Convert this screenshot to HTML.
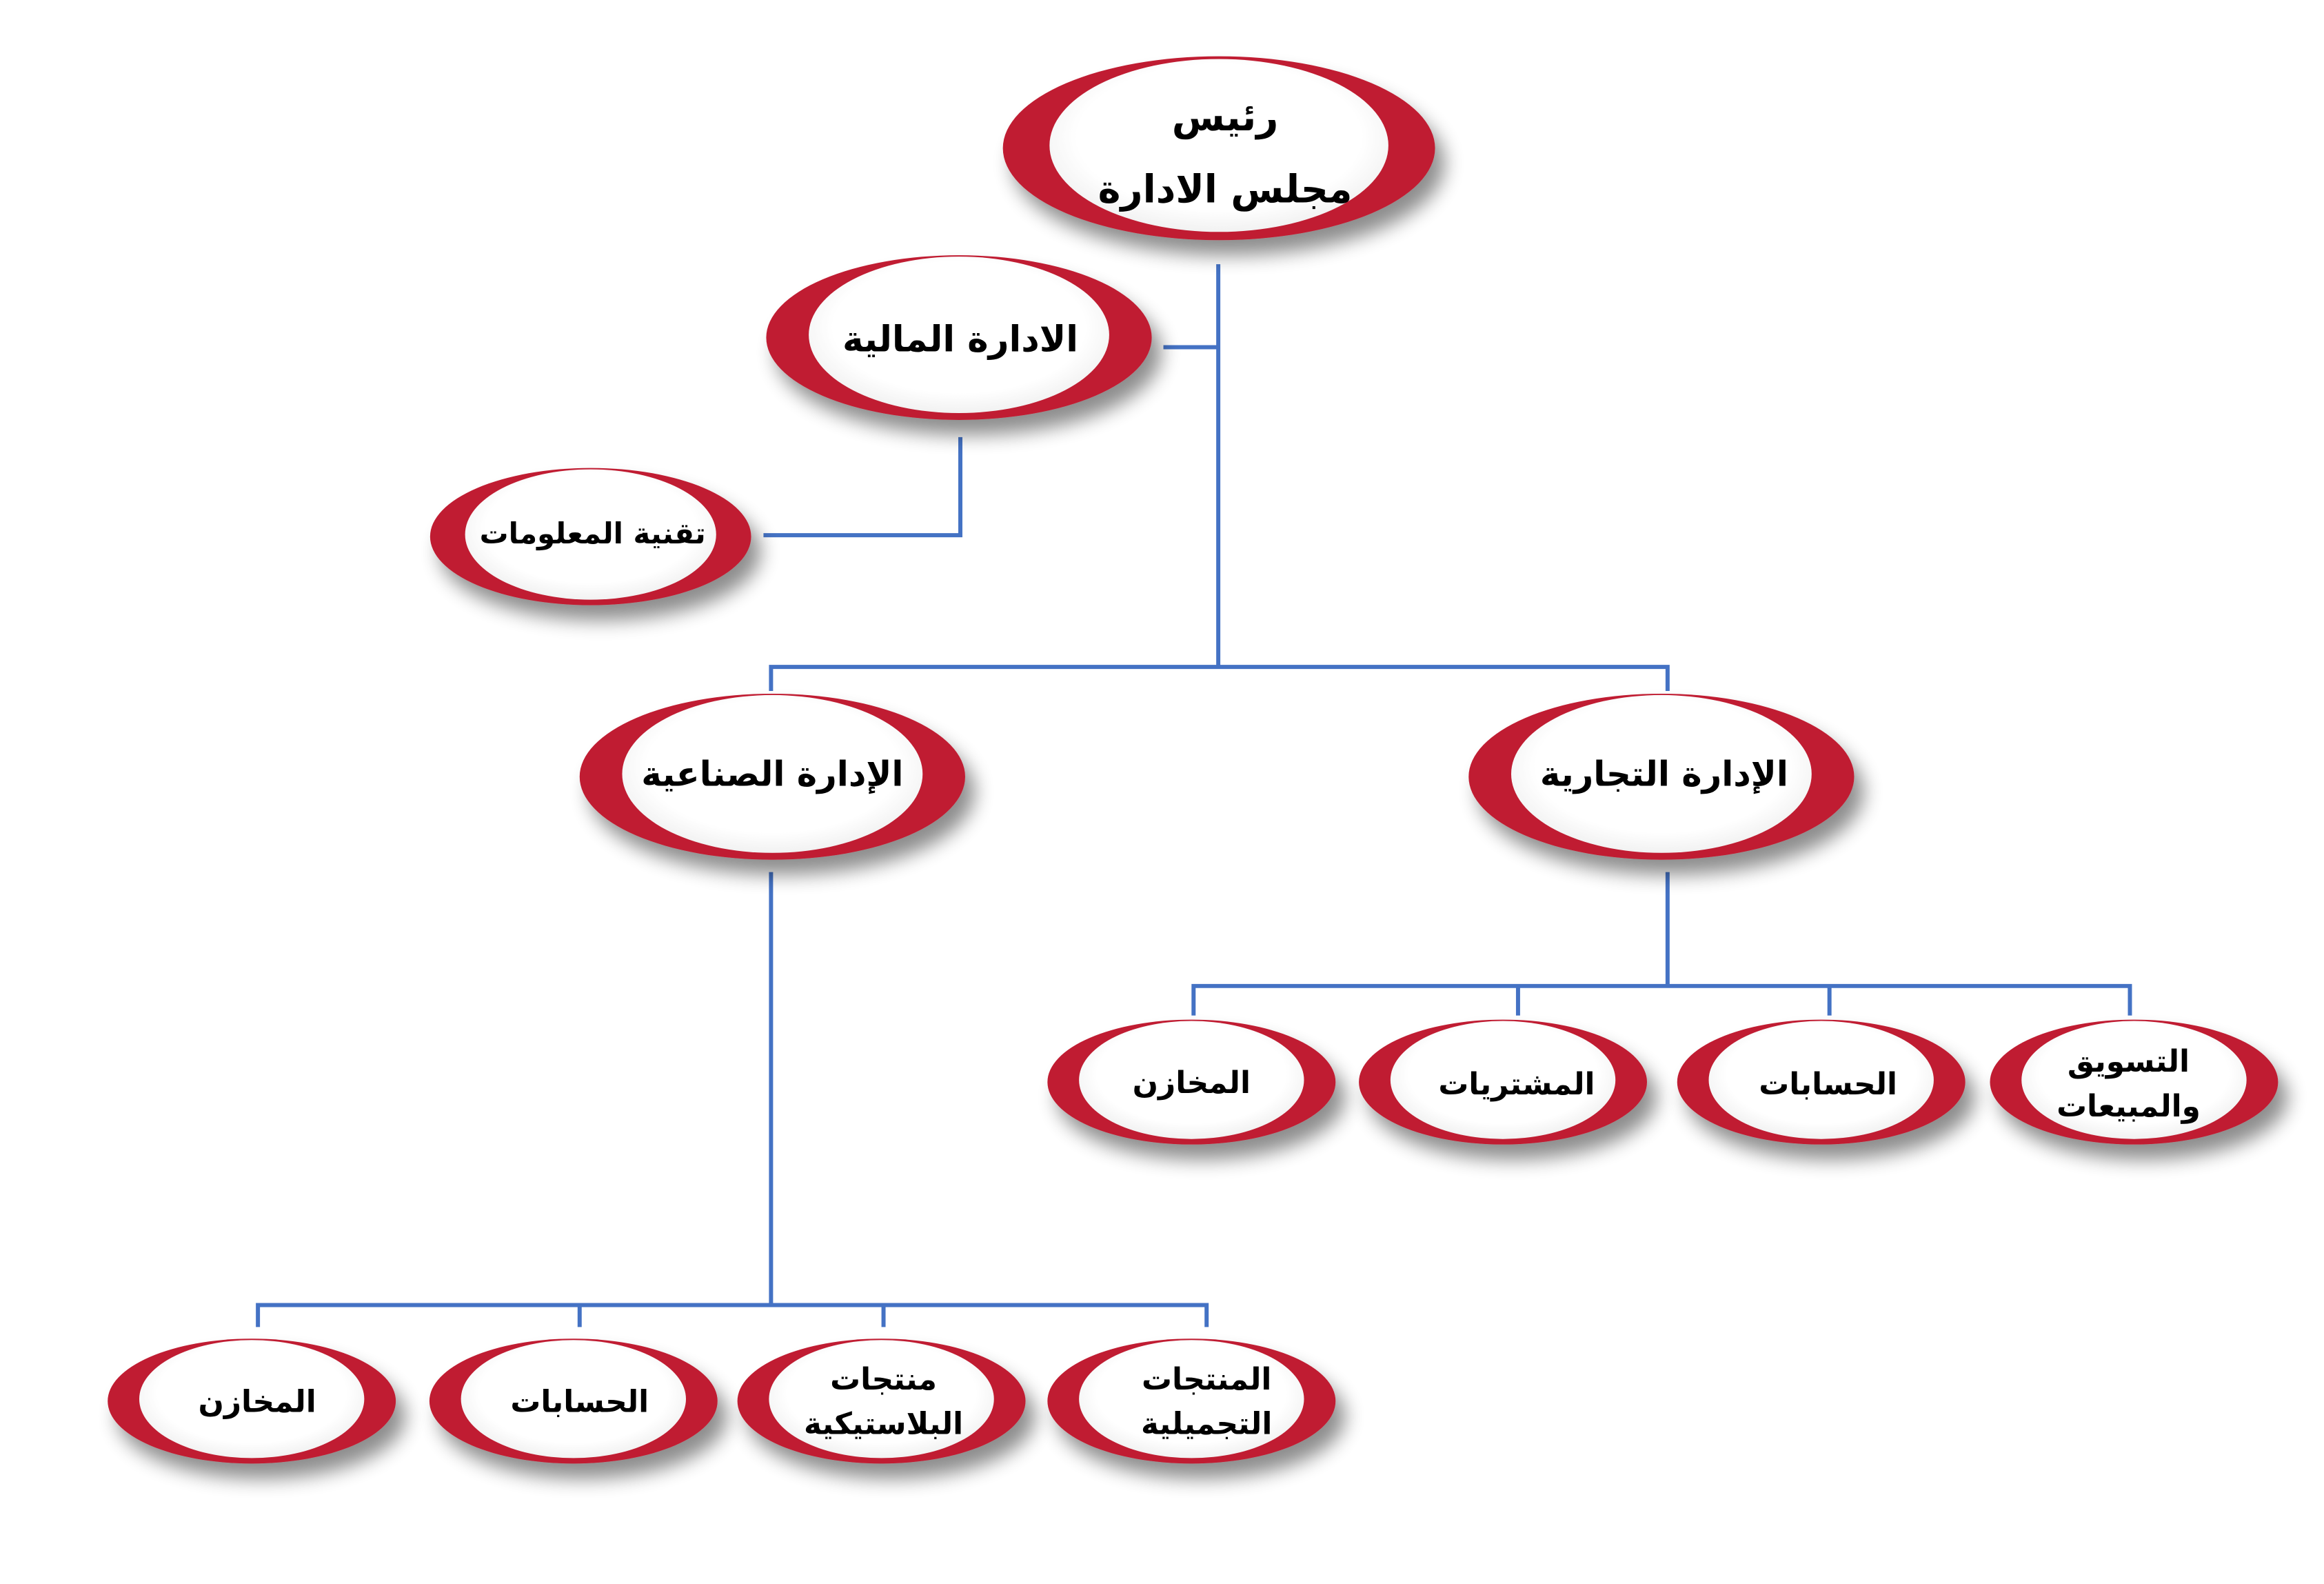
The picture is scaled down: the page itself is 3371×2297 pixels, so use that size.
<!DOCTYPE html>
<html><head><meta charset="utf-8"><style>
html,body{margin:0;padding:0;background:#fff;}
svg{display:block}
text{font-family:"DejaVu Sans","Liberation Sans",sans-serif;font-weight:bold;fill:#000;text-anchor:middle;direction:rtl}
</style></head><body>
<svg width="3371" height="2297" viewBox="0 0 3371 2297" xmlns="http://www.w3.org/2000/svg">
<defs>
<filter id="sh" x="-20%" y="-20%" width="140%" height="160%">
<feGaussianBlur in="SourceAlpha" stdDeviation="14"/>
<feOffset dx="14" dy="22" result="b"/>
<feComponentTransfer><feFuncA type="linear" slope="0.45"/></feComponentTransfer>
<feMerge><feMergeNode/><feMergeNode in="SourceGraphic"/></feMerge>
</filter>
<radialGradient id="wg" cx="50%" cy="45%" r="60%">
<stop offset="0.7" stop-color="#ffffff"/><stop offset="1" stop-color="#ececec"/>
</radialGradient>
</defs>
<g transform="scale(0.995)">
<g stroke="#4472c4" stroke-width="6" fill="none">
<path d="M1776 385V972"/>
<path d="M1696 506H1776"/>
<path d="M1400 637V780H1113"/>
<path d="M1124 972H2431M1124 969V1007M2431 969V1007"/>
<path d="M1124 1271V1902"/>
<path d="M376 1902H1759M376 1899V1934M845 1899V1934M1288 1899V1934M1759 1899V1934"/>
<path d="M2431 1271V1437"/>
<path d="M1740 1437H3105M1740 1434V1480M2213 1434V1480M2667 1434V1480M3105 1434V1480"/>
</g>
<g filter="url(#sh)"><ellipse cx="1777" cy="216" rx="315" ry="134" fill="#c01f32"/><ellipse cx="1777" cy="212" rx="247" ry="126" fill="url(#wg)"/></g>
<g filter="url(#sh)"><ellipse cx="1398" cy="492" rx="281" ry="120" fill="#c01f32"/><ellipse cx="1398" cy="488" rx="219" ry="114" fill="url(#wg)"/></g>
<g filter="url(#sh)"><ellipse cx="861" cy="782" rx="234" ry="100" fill="#c01f32"/><ellipse cx="861" cy="779" rx="183" ry="95" fill="url(#wg)"/></g>
<g filter="url(#sh)"><ellipse cx="1126" cy="1132" rx="281" ry="121" fill="#c01f32"/><ellipse cx="1126" cy="1128" rx="219" ry="115" fill="url(#wg)"/></g>
<g filter="url(#sh)"><ellipse cx="2422" cy="1132" rx="281" ry="121" fill="#c01f32"/><ellipse cx="2422" cy="1128" rx="219" ry="115" fill="url(#wg)"/></g>
<g filter="url(#sh)"><ellipse cx="1737" cy="1577" rx="210" ry="91" fill="#c01f32"/><ellipse cx="1737" cy="1574" rx="164" ry="86" fill="url(#wg)"/></g>
<g filter="url(#sh)"><ellipse cx="2191" cy="1577" rx="210" ry="91" fill="#c01f32"/><ellipse cx="2191" cy="1574" rx="164" ry="86" fill="url(#wg)"/></g>
<g filter="url(#sh)"><ellipse cx="2655" cy="1577" rx="210" ry="91" fill="#c01f32"/><ellipse cx="2655" cy="1574" rx="164" ry="86" fill="url(#wg)"/></g>
<g filter="url(#sh)"><ellipse cx="3111" cy="1577" rx="210" ry="91" fill="#c01f32"/><ellipse cx="3111" cy="1574" rx="164" ry="86" fill="url(#wg)"/></g>
<g filter="url(#sh)"><ellipse cx="367" cy="2042" rx="210" ry="91" fill="#c01f32"/><ellipse cx="367" cy="2039" rx="164" ry="86" fill="url(#wg)"/></g>
<g filter="url(#sh)"><ellipse cx="836" cy="2042" rx="210" ry="91" fill="#c01f32"/><ellipse cx="836" cy="2039" rx="164" ry="86" fill="url(#wg)"/></g>
<g filter="url(#sh)"><ellipse cx="1285" cy="2042" rx="210" ry="91" fill="#c01f32"/><ellipse cx="1285" cy="2039" rx="164" ry="86" fill="url(#wg)"/></g>
<g filter="url(#sh)"><ellipse cx="1737" cy="2042" rx="210" ry="91" fill="#c01f32"/><ellipse cx="1737" cy="2039" rx="164" ry="86" fill="url(#wg)"/></g>
<text x="1786" y="190" font-size="56">رئيس</text>
<text x="1786" y="295" font-size="56">مجلس الادارة</text>
<text x="1400" y="512" font-size="52">الادارة المالية</text>
<text x="864" y="792" font-size="42">تقنية المعلومات</text>
<text x="1126" y="1145" font-size="50">الإدارة الصناعية</text>
<text x="2426" y="1145" font-size="50">الإدارة التجارية</text>
<text x="1737" y="1593" font-size="44">المخازن</text>
<text x="2211" y="1595" font-size="44">المشتريات</text>
<text x="2665" y="1595" font-size="44">الحسابات</text>
<text x="3103" y="1562" font-size="44">التسويق</text>
<text x="3103" y="1627" font-size="44">والمبيعات</text>
<text x="375" y="2058" font-size="44">المخازن</text>
<text x="845" y="2058" font-size="44">الحسابات</text>
<text x="1288" y="2025" font-size="44">منتجات</text>
<text x="1288" y="2090" font-size="44">البلاستيكية</text>
<text x="1759" y="2025" font-size="44">المنتجات</text>
<text x="1759" y="2090" font-size="44">التجميلية</text>
</g>
</svg>
</body></html>
